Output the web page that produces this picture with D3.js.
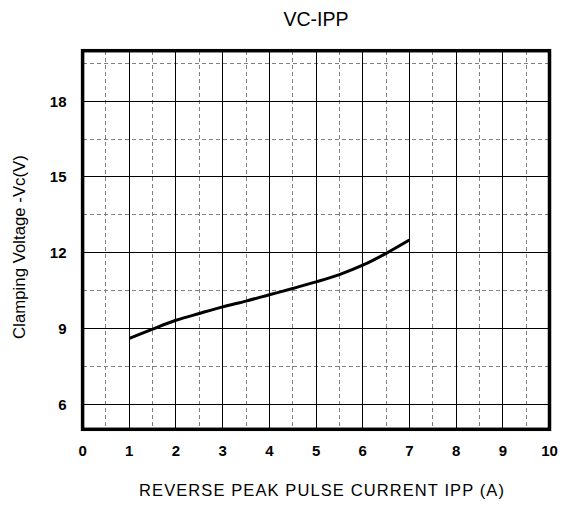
<!DOCTYPE html>
<html>
<head>
<meta charset="utf-8">
<script src="https://cdn.jsdelivr.net/npm/d3@7"></script>
<style>
  body { margin: 0; background: #fff; }
  svg { display: block; font-family: "Liberation Sans", Arial, sans-serif; }
</style>
</head>
<body>
<svg id="chart"></svg>
<script>
// values
const ipp = [1, 1.5, 2, 2.5, 3, 3.5, 4, 4.5, 5, 5.5, 6, 6.5, 7];
const vc = [8.6, 8.97, 9.32, 9.59, 9.85, 10.08, 10.33, 10.58, 10.84, 11.13, 11.5, 11.97, 12.5];

const xTicks = [0, 1, 2, 3, 4, 5, 6, 7, 8, 9, 10];
const xMinor = [0.5, 1.5, 2.5, 3.5, 4.5, 5.5, 6.5, 7.5, 8.5, 9.5];
const yTicks = [6, 9, 12, 15, 18];
const yMinor = [7.5, 10.5, 13.5, 16.5, 19.5];

const [w, h] = [569, 506];
const [plotL, plotR, plotT, plotB] = [82.6, 549.5, 50.7, 429.3];

const svg = d3.select('#chart').attr('width', w).attr('height', h);

const x = d3.scaleLinear().domain([0, 10]).range([plotL, plotR]);
const y = d3.scaleLinear().domain([5, 20]).range([plotB, plotT]);

// dashed minor grid
const grid = svg.append('g').attr('shape-rendering', 'crispEdges');
grid.selectAll('.vminor').data(xMinor).enter().append('line')
  .attr('x1', d => x(d)).attr('x2', d => x(d)).attr('y1', plotT).attr('y2', plotB)
  .attr('stroke', '#808080').attr('stroke-width', 1).attr('stroke-dasharray', '4,3');
grid.selectAll('.hminor').data(yMinor).enter().append('line')
  .attr('y1', d => y(d)).attr('y2', d => y(d)).attr('x1', plotL).attr('x2', plotR)
  .attr('stroke', '#808080').attr('stroke-width', 1).attr('stroke-dasharray', '4,3');

// solid major grid
grid.selectAll('.vmajor').data(xTicks.slice(1, -1)).enter().append('line')
  .attr('x1', d => x(d)).attr('x2', d => x(d)).attr('y1', plotT).attr('y2', plotB)
  .attr('stroke', '#000').attr('stroke-width', 1);
grid.selectAll('.hmajor').data(yTicks).enter().append('line')
  .attr('y1', d => y(d)).attr('y2', d => y(d)).attr('x1', plotL).attr('x2', plotR)
  .attr('stroke', '#000').attr('stroke-width', 1);

// frame
svg.append('rect')
  .attr('x', plotL).attr('y', plotT).attr('width', plotR - plotL).attr('height', plotB - plotT)
  .attr('fill', 'none').attr('stroke', '#000').attr('stroke-width', 3.5);

// curve
const line = d3.line().x((d, i) => x(ipp[i])).y(d => y(d)).curve(d3.curveMonotoneX);
svg.append('path').datum(vc).attr('d', line)
  .attr('fill', 'none').attr('stroke', '#000').attr('stroke-width', 3)
  .attr('stroke-linejoin', 'round');

// tick labels
svg.append('g').selectAll('text').data(xTicks).enter().append('text')
  .attr('x', d => x(d)).attr('y', 456).attr('text-anchor', 'middle')
  .attr('font-size', 15).attr('font-weight', 'bold').text(d => d);
svg.append('g').selectAll('text').data(yTicks).enter().append('text')
  .attr('x', 66.5).attr('y', d => y(d) + 5.5).attr('text-anchor', 'end')
  .attr('font-size', 15).attr('font-weight', 'bold').text(d => d);

// titles
svg.append('text').attr('x', 316).attr('y', 26).attr('text-anchor', 'middle')
  .attr('font-size', 19.5).text('VC-IPP');
svg.append('text').attr('x', 322).attr('y', 496).attr('text-anchor', 'middle')
  .attr('font-size', 16.5).attr('letter-spacing', 1.1).text('REVERSE PEAK PULSE CURRENT IPP (A)');
svg.append('text').attr('transform', 'translate(25,247) rotate(-90)').attr('text-anchor', 'middle')
  .attr('font-size', 16.8).text('Clamping Voltage -Vc(V)');
</script>
</body>
</html>
